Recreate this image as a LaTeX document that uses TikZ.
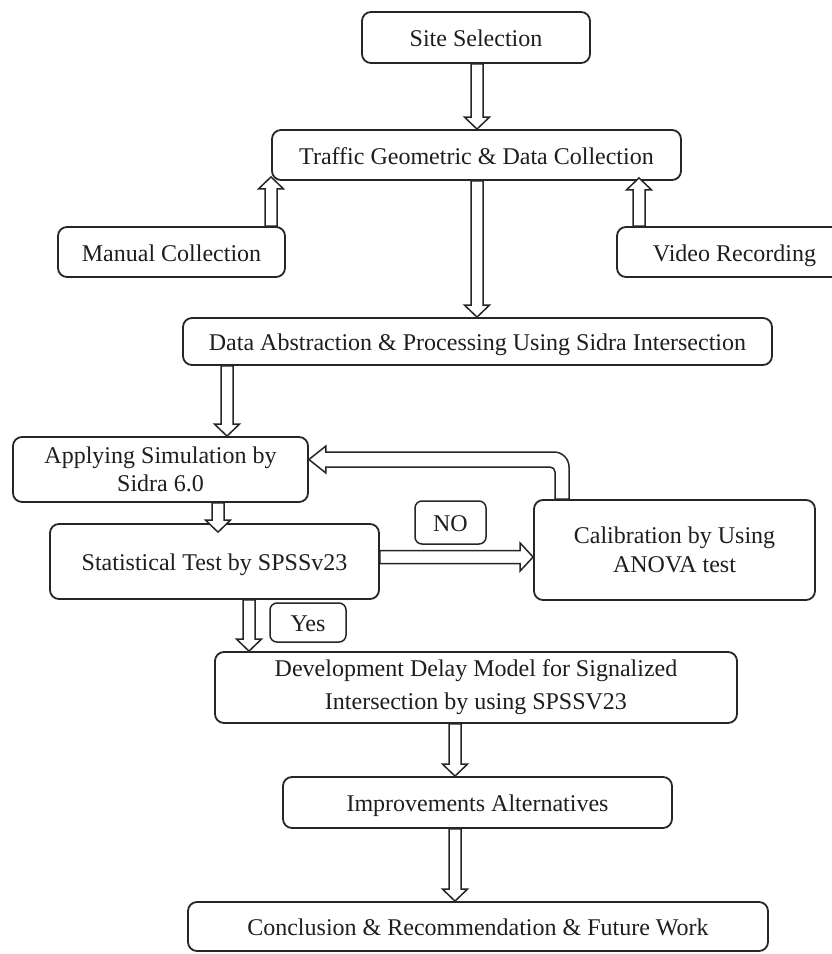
\documentclass[tikz,border=0pt]{standalone}
\usepackage{fontspec}
\setmainfont{Liberation Serif}
\usetikzlibrary{calc}
\definecolor{linec}{HTML}{262626}
\definecolor{textc}{HTML}{1E1E1E}
% vertical down block arrow: x (px), from, to
\newcommand\bdown[3]{\draw[barrow] let \p1=(#2), \p2=(#3) in
  ({#1pt-6pt},\y1) -- ({#1pt-6pt},{\y2+12pt}) -- ({#1pt-12.5pt},{\y2+12pt}) -- ({#1pt},\y2)
  -- ({#1pt+12.5pt},{\y2+12pt}) -- ({#1pt+6pt},{\y2+12pt}) -- ({#1pt+6pt},\y1) -- cycle;}
% vertical up block arrow
\newcommand\bup[3]{\draw[barrow] let \p1=(#2), \p2=(#3) in
  ({#1pt-6pt},\y1) -- ({#1pt-6pt},{\y2-12pt}) -- ({#1pt-12.5pt},{\y2-12pt}) -- ({#1pt},\y2)
  -- ({#1pt+12.5pt},{\y2-12pt}) -- ({#1pt+6pt},{\y2-12pt}) -- ({#1pt+6pt},\y1) -- cycle;}
% horizontal right block arrow: y (px), from, to
\newcommand\bright[3]{\draw[barrow] let \p1=(#2), \p2=(#3) in
  (\x1,{-#1pt+6.5pt}) -- ({\x2-13pt},{-#1pt+6.5pt}) -- ({\x2-13pt},{-#1pt+14pt}) -- (\x2,{-#1pt})
  -- ({\x2-13pt},{-#1pt-14pt}) -- ({\x2-13pt},{-#1pt-6.5pt}) -- (\x1,{-#1pt-6.5pt}) -- cycle;}
\tikzset{
  box/.style={draw=linec, line width=1.8pt, rounded corners=9pt, fill=white, inner sep=0pt,
    align=center, text=textc, font=\fontsize{24}{29}\selectfont},
  one/.style={box, text height=20pt, text depth=2pt},
  lbl/.style={one, line width=1.5pt, rounded corners=7pt},
  barrow/.style={draw=linec, line width=1.5pt, fill=white, line join=miter}
}
\begin{document}
\begin{tikzpicture}[x=1pt,y=-1pt]
\useasboundingbox (0,0) rectangle (832,954);
\clip (0,0) rectangle (832,954);
\fill[white] (0,0) rectangle (832,954);

\node[one, minimum width=228, minimum height=51] (site) at (476,37.5) {Site Selection};
\node[one, minimum width=409, minimum height=50] (traffic) at (476.5,155) {Traffic Geometric \& Data Collection};
\node[one, minimum width=227, minimum height=50] (manual) at (171.5,252) {Manual Collection};
\node[one, minimum width=235, minimum height=50] (video) at (734.5,252) {Video Recording};
\node[one, minimum width=589, minimum height=47] (data) at (477.5,341.5) {Data Abstraction \& Processing Using Sidra Intersection};
\node[box, minimum width=295, minimum height=65, font=\fontsize{24}{28}\selectfont] (apply) at (160.5,469.5) {Applying Simulation by\\Sidra 6.0};
\node[one, minimum width=329, minimum height=75] (stat) at (214.5,561.5) {Statistical Test by SPSSv23};
\node[box, minimum width=281, minimum height=100] (calib) at (674.5,550) {Calibration by Using\\ANOVA test};
\node[lbl, minimum width=71, minimum height=43] (no) at (450.5,522.5) {NO};
\node[lbl, minimum width=76, minimum height=39] (yes) at (308,622.5) {Yes};
\node[box, minimum width=522, minimum height=71, font=\fontsize{24}{33}\selectfont] (dev) at (476,687.5) {Development Delay Model for Signalized\\Intersection by using SPSSV23};
\node[one, minimum width=389, minimum height=51] (impr) at (477.5,802.5) {Improvements Alternatives};
\node[one, minimum width=580, minimum height=49] (concl) at (478,926.5) {Conclusion \& Recommendation \& Future Work};

\bdown{477}{site.south}{traffic.north}
\bup{271}{manual.north}{[yshift=4pt]traffic.south}
\bup{639}{video.north}{[yshift=3pt]traffic.south}
\bdown{477}{traffic.south}{data.north}
\bdown{227}{data.south}{apply.north}
\bdown{218}{apply.south}{[yshift=-9pt]stat.north}
\bright{557}{stat.east}{calib.west}
\bdown{249}{stat.south}{dev.north}
\bdown{455}{dev.south}{impr.north}
\bdown{455}{impr.south}{concl.north}

% feedback arrow from calibration back to simulation
\draw[barrow] let \p1=(calib.north), \p2=(apply.east) in
  (555pt,\y1) -- (555pt,-472pt) arc[start angle=0, end angle=90, radius=5pt]
  -- ({\x2+17pt},-467pt) -- ({\x2+17pt},-473pt) -- (\x2,-459.5pt)
  -- ({\x2+17pt},-446pt) -- ({\x2+17pt},-452pt) -- (554pt,-452pt)
  arc[start angle=90, end angle=0, radius=15pt] -- (569pt,\y1) -- cycle;
\end{tikzpicture}
\end{document}
